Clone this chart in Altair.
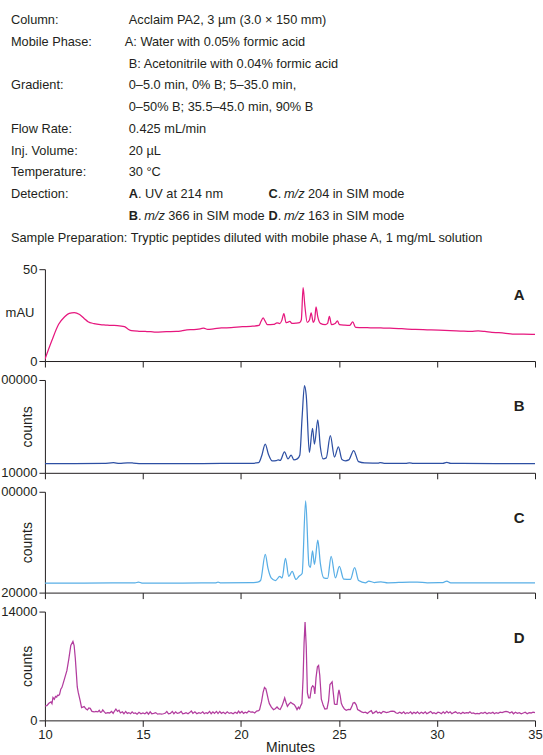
import altair as alt
import pandas as pd

FONT = "Liberation Sans, Arial, sans-serif"
INK = "#231f20"

# ---------------- header text ----------------
PARAM_LABELS = ["Column:", "Mobile Phase:", "Gradient:", "Flow  Rate:", "Inj. Volume:",
                "Temperature:", "Detection:",
                "Sample Preparation: Tryptic peptides diluted with mobile phase A, 1 mg/mL solution"]
PARAM_LABEL_ROWS = [0, 1, 3, 5, 6, 7, 8, 10]
PARAM_VALUES = ["Acclaim PA2, 3 µm (3.0 × 150 mm)",
                "B: Acetonitrile with 0.04% formic acid",
                "0–5.0 min, 0% B; 5–35.0 min,",
                "0–50% B; 35.5–45.0 min, 90% B",
                "0.425 mL/min", "20 µL", "30  °C"]
PARAM_VALUE_ROWS = [0, 2, 3, 4, 5, 6, 7]
MOBILE_A = "A: Water with 0.05% formic acid"
DET_LETTERS_LEFT = ["A", "B"]
DET_LETTERS_RIGHT = ["C", "D"]
DET_A_TEXT = "UV at 214 nm"
DET_MZ_LEFT = ["366 in SIM mode"]
DET_MZ_RIGHT = ["204 in SIM mode", "163 in SIM mode"]
MZ = "m/z"

# ---------------- axes ----------------
X_TICKS = [10, 15, 20, 25, 30, 35]

# ---------------- trace A (mAU) ----------------
A_T = [10.0, 10.35, 10.7, 11.0, 11.24, 11.5, 11.77, 12.0, 12.2, 12.5, 12.83, 13.1, 13.36, 13.7, 14.06,
       14.25, 14.42, 14.8, 15.12, 15.4, 15.65, 16.2, 16.7, 17.0, 17.24, 17.6, 17.95, 18.1, 18.3, 18.6,
       19.0, 19.5, 20.07, 20.5, 20.92, 21.02, 21.13, 21.22, 21.35, 21.66, 21.84, 21.98, 22.08, 22.19,
       22.3, 22.36, 22.49, 22.6, 22.8, 22.99, 23.08, 23.17, 23.26, 23.38, 23.5, 23.58, 23.69, 23.76,
       23.83, 23.92, 24.05, 24.3, 24.42, 24.51, 24.62, 24.8, 24.92, 25.02, 25.3, 25.55, 25.7, 25.85,
       26.1, 26.6, 27.14, 27.6, 28.2, 28.9, 29.5, 30.1, 30.67, 31.2, 31.73, 32.1, 32.44, 32.8, 33.15,
       33.5, 33.85, 34.4, 35.0]
A_V = [0.9, 11, 20, 24, 26, 26.4, 25.3, 23.2, 21.4, 20.4, 19.8, 19.6, 19.4, 19.3, 18.7,
       17.3, 16.5, 16.2, 16.1, 16.0, 15.8, 16.0, 16.1, 16.5, 17.0, 17.1, 17.6, 17.9, 17.2, 17.5,
       18.0, 18.2, 18.7, 18.9, 19.4, 21.5, 23.5, 22.0, 19.8, 19.9, 20.8, 20.4, 22.0, 25.8,
       20.9, 21.0, 21.6, 20.5, 20.6, 20.9, 22.5, 40.0, 30.0, 21.0, 22.5, 26.2, 21.0, 22.5,
       29.5, 24.0, 20.5, 19.8, 20.5, 24.3, 19.8, 20.4, 21.8, 19.8, 19.5, 19.4, 21.3, 18.3,
       18.2, 18.1, 18.0, 17.9, 17.6, 17.2, 17.0, 16.8, 16.5, 16.3, 16.1, 16.4, 16.1, 15.6, 15.4,
       15.1, 14.7, 14.6, 14.5]

# ---------------- trace B (counts) ----------------
B_T = [10.0, 11.5, 13.0, 13.5, 13.8, 14.2, 14.5, 14.9, 17.0, 19.0, 20.5, 20.9, 21.05, 21.24, 21.4,
       21.6, 21.8, 21.9, 22.0, 22.22, 22.4, 22.56, 22.7, 22.87, 23.0, 23.12, 23.24, 23.33, 23.49,
       23.65, 23.75, 23.92, 24.05, 24.19, 24.35, 24.56, 24.77, 24.97, 25.15, 25.33, 25.5, 25.75,
       26.0, 26.3, 27.0, 27.1, 27.3, 28.4, 28.6, 28.8, 30.3, 30.5, 30.7, 33.0, 35.0]
B_V = [19000, 19000, 19100, 19800, 19100, 19700, 19500, 19000, 19000, 19100, 19200, 19800, 26000,
       37900, 28000, 21500, 21800, 22500, 22000, 30250, 23500, 27100, 22500, 23500, 27100, 64000,
       94600, 85000, 29800, 53200, 37900, 61300, 35000, 23500, 24500, 46000, 25300, 35200, 23000,
       21700, 22500, 31600, 20800, 19600, 19500, 19900, 19200, 19200, 19700, 19200, 19200, 20200,
       19200, 19000, 19000]

# ---------------- trace C (counts) ----------------
C_T = [10.0, 12.0, 14.6, 14.77, 14.95, 17.0, 18.7, 18.83, 18.97, 20.5, 20.85, 21.0, 21.24, 21.38,
       21.54, 21.76, 21.98, 22.1, 22.27, 22.44, 22.61, 22.81, 22.95, 23.12, 23.3, 23.47, 23.54,
       23.65, 23.75, 23.92, 24.05, 24.22, 24.42, 24.6, 24.82, 25.02, 25.24, 25.58, 25.8, 26.0,
       26.35, 26.52, 26.8, 27.14, 27.5, 28.6, 29.0, 29.5, 30.3, 30.5, 30.7, 33.0, 35.0]
C_V = [27600, 27600, 27700, 28400, 27600, 27600, 27700, 28400, 27700, 27900, 28300, 29600, 50400,
       39200, 31700, 29600, 32800, 31700, 47200, 32800, 36800, 30400, 32800, 35200, 92800, 41600,
       40000, 53200, 42400, 61600, 43200, 31700, 31200, 48800, 31700, 40800, 30700, 30400, 39800,
       29600, 27800, 29200, 28000, 28600, 27800, 28300, 28300, 27800, 27900, 29200, 27800, 27700,
       27700]

# ---------------- trace D (counts) ----------------
D_T = [10.0, 10.1, 10.2, 10.31, 10.36, 10.41, 10.48, 10.54, 10.6, 10.64, 10.7, 10.75, 10.81, 10.87,
       10.92, 11.02, 11.12, 11.22, 11.32, 11.43, 11.49, 11.55, 11.6, 11.65, 11.7, 11.8, 11.87, 11.93,
       12.0, 12.1, 12.17, 12.24, 12.31, 12.4, 12.51, 12.6, 12.7, 12.77, 12.83, 12.89, 12.95, 13.02,
       13.1, 13.2, 13.3, 13.4, 13.48, 13.55, 13.62, 13.7, 13.78, 13.85, 13.95, 14.03, 14.12, 14.2,
       14.28, 14.37, 14.45, 14.53, 14.62, 14.7, 14.8, 14.9, 15.0, 15.1, 15.2, 15.28, 15.37, 15.45,
       15.55, 15.65, 15.75, 15.85, 15.95, 16.05, 16.15, 16.22, 16.3, 16.4, 16.5, 16.58, 16.67, 16.75,
       16.85, 16.95, 17.03, 17.12, 17.2, 17.3, 17.38, 17.47, 17.55, 17.65, 17.75, 17.85, 17.95,
       18.05, 18.13, 18.22, 18.3, 18.4, 18.48, 18.57, 18.65, 18.75, 18.83, 18.92, 19.0, 19.1, 19.2,
       19.3, 19.4, 19.5, 19.6, 19.7, 19.8, 19.88, 19.95, 20.05, 20.13, 20.22, 20.3, 20.4, 20.5, 20.6,
       20.7, 20.8, 20.9, 20.95, 21.05, 21.13, 21.2, 21.27, 21.32, 21.4, 21.45, 21.55, 21.66, 21.75,
       21.84, 21.92, 22.0, 22.1, 22.18, 22.23, 22.3, 22.37, 22.45, 22.54, 22.63, 22.72, 22.8, 22.86,
       22.93, 22.99, 23.05, 23.11, 23.17, 23.22, 23.27, 23.33, 23.39, 23.45, 23.52, 23.6, 23.66,
       23.72, 23.77, 23.83, 23.9, 23.96, 24.02, 24.1, 24.2, 24.28, 24.39, 24.47, 24.54, 24.6, 24.65,
       24.72, 24.77, 24.82, 24.9, 24.96, 25.0, 25.06, 25.12, 25.19, 25.28, 25.37, 25.48, 25.58, 25.66,
       25.72, 25.8, 25.88, 25.95, 26.05, 26.15, 26.25, 26.35, 26.45, 26.55, 26.65, 26.72, 26.8, 26.9,
       26.98, 27.07, 27.15, 27.25, 27.33, 27.42, 27.52, 27.62, 27.72, 27.82, 27.92, 28.0, 28.1, 28.2,
       28.3, 28.38, 28.47, 28.55, 28.65, 28.73, 28.82, 28.92, 29.0, 29.1, 29.2, 29.3, 29.4, 29.48,
       29.58, 29.68, 29.77, 29.85, 29.95, 30.05, 30.13, 30.22, 30.32, 30.4, 30.5, 30.58, 30.67, 30.76,
       30.85, 30.95, 31.05, 31.13, 31.22, 31.32, 31.4, 31.5, 31.6, 31.68, 31.77, 31.86, 31.95, 32.05,
       32.15, 32.25, 32.35, 32.45, 32.55, 32.65, 32.75, 32.85, 32.93, 33.02, 33.12, 33.22, 33.32,
       33.42, 33.52, 33.62, 33.72, 33.82, 33.9, 34.0, 34.1, 34.2, 34.3, 34.4, 34.5, 34.6, 34.7, 34.8,
       34.9, 35.0]
D_V = [1850, 1900, 2200, 2380, 2150, 2940, 2720, 3070, 2980, 3240, 3200, 3370, 4020, 4250,
       4670, 5530, 6400, 7900, 9630, 10150, 9630, 8000, 6180, 4300, 3590, 2500, 1640, 1700,
       1770, 1450, 1340, 1600, 1550, 1150, 1080, 1150, 1100, 1300, 1050, 1080, 1350, 1120,
       900, 1000, 950, 1150, 900, 1200, 1460, 1150, 1300, 950, 1100, 850, 1150, 900,
       1000, 850, 1100, 900, 950, 800, 1050, 850, 950, 850, 1050, 800, 1100, 850,
       900, 1000, 800, 850, 800, 850, 950, 1150, 850, 900, 1150, 850, 1100, 900,
       950, 1150, 850, 900, 1000, 850, 1000, 1200, 900, 1100, 850, 1000, 900,
       1100, 850, 1000, 900, 1150, 850, 1100, 900, 1150, 880, 1150, 900, 1050, 850,
       1100, 900, 1000, 850, 1050, 900, 1200, 950, 1150, 900, 1050, 950, 1200, 1050, 1100,
       950, 1200, 1250, 1380, 2400, 3600, 4240, 4050, 3530, 2600, 2150, 1700, 1380, 1500,
       1720, 1500, 1400, 1900, 2500, 2890, 2300, 1810, 2100, 2330, 2150, 2020, 1700, 1380,
       1700, 1500, 1900, 2200, 5500, 10000, 12660, 9500, 3530, 2900, 2890, 4200, 4450,
       4300, 3400, 5500, 6900, 7070, 5800, 2720, 1900, 1450, 1510, 2500, 4610, 4800, 4960,
       3300, 2100, 2070, 2050, 3400, 3930, 3200, 2200, 1800, 1450, 1300, 1400, 1380, 1800,
       2240, 2290, 2000, 1400, 1250, 1100, 1000, 1050, 900, 1100, 1250, 900, 1000, 1200,
       950, 1050, 900, 1150, 1100, 1000, 1050, 1150, 1200, 1150, 950, 900, 1050, 900,
       1100, 850, 1000, 900, 1100, 850, 1050, 900, 1100, 850, 1050, 900, 1100, 850,
       1000, 1150, 900, 1000, 850, 1050, 1000, 850, 1100, 900, 1150, 950, 1100, 850,
       1000, 1100, 900, 1000, 850, 1050, 900, 1000, 950, 1100, 900, 950, 850, 900,
       850, 1000, 900, 1050, 850, 1000, 900, 1050, 850, 1000, 900, 1050, 1000,
       1100, 1150, 1100, 950, 1100, 850, 1050, 900, 1000, 850, 950, 1050, 850, 1000, 950,
       1050, 1000]

PANELS = [
    dict(t=A_T, v=A_V, color="#e6177e", domain=[0, 50], ticks=[0, 50], tick_text=["0", "50"],
         title="mAU", letter="A", height=92, interp="monotone"),
    dict(t=B_T, v=B_V, color="#2d4fa3", domain=[10000, 100000], ticks=[10000, 100000],
         tick_text=["10000", "00000"], title="counts", letter="B", height=93, interp="monotone"),
    dict(t=C_T, v=C_V, color="#58aee6", domain=[20000, 100000], ticks=[20000, 100000],
         tick_text=["20000", "00000"], title="counts", letter="C", height=101, interp="monotone"),
    dict(t=D_T, v=D_V, color="#b23c9e", domain=[0, 14000], ticks=[0, 14000],
         tick_text=["0", "14000"], title="counts", letter="D", height=109, interp="linear"),
]

W = 491
TXT_SIZE = 12.8


def header():
    row_scale = alt.Scale(domain=[0, 10], range=[19.5, 237.5])
    layers = []

    def seg(texts, rows, x, weight="normal", style="normal"):
        df = pd.DataFrame({"row": rows, "label": texts})
        return alt.Chart(df).mark_text(align="left", baseline="middle", font=FONT,
                                       fontSize=TXT_SIZE, fontWeight=weight, fontStyle=style,
                                       color=INK).encode(
            x=alt.value(x), y=alt.Y("row:Q", scale=row_scale, axis=None), text="label:N")

    layers.append(seg(PARAM_LABELS, PARAM_LABEL_ROWS, -34))
    layers.append(seg(PARAM_VALUES, PARAM_VALUE_ROWS, 84))
    layers.append(seg([MOBILE_A], [1], 80))
    # detection block (rows 8 and 9)
    layers.append(seg(DET_LETTERS_LEFT, [8, 9], 84, weight="bold"))
    layers.append(seg(DET_LETTERS_RIGHT, [8, 9], 224, weight="bold"))
    layers.append(seg([". " + DET_A_TEXT, "."], [8, 9], 93.2))
    layers.append(seg([".", "."], [8, 9], 233.2))
    layers.append(seg([MZ], [9], 99.5, style="italic"))
    layers.append(seg([MZ, MZ], [8, 9], 239.5, style="italic"))
    layers.append(seg(DET_MZ_LEFT, [9], 123.5))
    layers.append(seg(DET_MZ_RIGHT, [8, 9], 263.5))
    return alt.layer(*layers).properties(width=W, height=257)


def panel(p, last):
    df = pd.DataFrame({"t": p["t"], "v": p["v"]})
    parts = [f"datum.value == {v} ? '{s}'" for v, s in zip(p["ticks"], p["tick_text"])]
    label_expr = " : ".join(parts) + " : ''"
    if p["title"] == "mAU":
        tkw = dict(titleAngle=0, titleAlign="right", titleBaseline="middle", titleX=-11, titleY=43,
                   titleFontSize=13)
    else:
        tkw = dict(titleAngle=270, titleAlign="center", titleBaseline="middle", titleX=-17,
                   titleY=p["height"] / 2)
    yaxis = alt.Axis(values=p["ticks"], labelExpr=label_expr, title=p["title"], tickSize=6,
                     labelPadding=2, grid=False, labelFlush=False, **tkw)
    xkw = dict(values=X_TICKS, labels=last, tickSize=6, grid=False, labelFlush=False,
               labelPadding=2, titlePadding=-1, title=("Minutes" if last else ""))
    xaxis = alt.Axis(**xkw)
    line = alt.Chart(df).mark_line(color=p["color"], strokeWidth=1.25,
                                   interpolate=p["interp"], clip=True).encode(
        x=alt.X("t:Q", scale=alt.Scale(domain=[10, 35], nice=False, zero=False), axis=xaxis),
        y=alt.Y("v:Q", scale=alt.Scale(domain=p["domain"], nice=False, zero=False), axis=yaxis),
    )
    lab = alt.Chart(pd.DataFrame({"letter": [p["letter"]]})).mark_text(
        font=FONT, fontWeight="bold", fontSize=15, align="center", baseline="middle",
        color=INK).encode(x=alt.value(475), y=alt.value(26), text="letter:N")
    return alt.layer(line, lab).properties(width=W, height=p["height"])


charts = [header()] + [panel(p, i == len(PANELS) - 1) for i, p in enumerate(PANELS)]

chart = alt.vconcat(*charts, spacing=6).properties(
    padding={"left": 0, "top": 0, "right": 0, "bottom": 0},
    background="white",
).configure_view(stroke=None).configure_axis(
    labelFont=FONT, labelFontSize=13, labelColor=INK, titleFont=FONT, titleFontSize=14,
    titleFontWeight="normal", titleColor=INK, domainColor=INK, tickColor=INK,
    domainWidth=1, tickWidth=1,
)

chart.save("out.html", embed_options={"renderer": "svg", "actions": False})
